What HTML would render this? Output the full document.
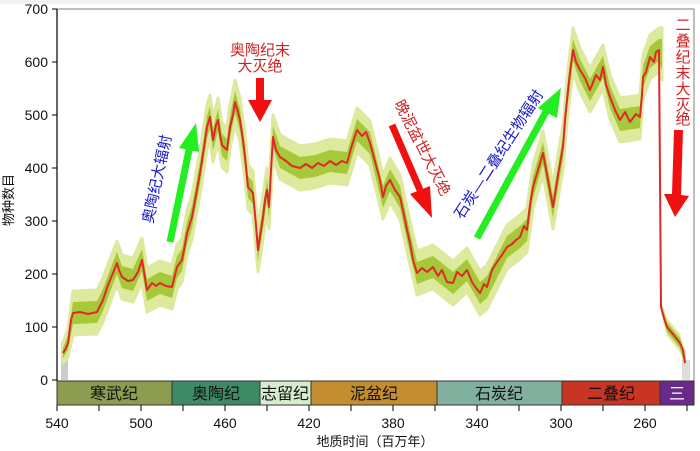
<!DOCTYPE html>
<html><head><meta charset="utf-8"><style>
html,body{margin:0;padding:0;background:#fff;}
svg{display:block;font-family:"Liberation Sans","Noto Sans CJK SC",sans-serif;}
</style></head><body>
<svg width="700" height="451" viewBox="0 0 700 451" xmlns="http://www.w3.org/2000/svg">
<rect width="700" height="451" fill="#fff"/>
<rect x="0" y="0" width="700" height="4" fill="#f2f2f2"/>
<line x1="57" y1="9" x2="694" y2="9" stroke="#aaa" stroke-width="1.5"/>
<line x1="694" y1="9" x2="694" y2="381" stroke="#aaa" stroke-width="1.5"/>
<rect x="61" y="342" width="7" height="38" fill="#ccc"/>
<rect x="682" y="360" width="8" height="20" fill="#ddd"/>
<path fill="#dde99c" stroke="#dde99c" stroke-width="3" stroke-linejoin="round" d="M63,343 L68,329 L73,291 L97,290 L103,278 L113,251 L117,241 L122,255 L133,258 L142,238 L147,268 L160,261 L172,265 L177,245 L182,238 L187,211 L192,195 L200,151 L207,105 L210,95 L213,118 L218,98 L222,123 L227,128 L230,105 L235,80 L240,98 L245,135 L248,165 L253,171 L258,228 L263,195 L267,168 L269,185 L273,115 L280,135 L300,146 L315,144 L330,139 L347,141 L357,108 L370,121 L383,175 L390,158 L400,175 L410,221 L417,251 L433,245 L453,261 L467,248 L480,271 L487,265 L507,225 L520,215 L527,208 L533,165 L543,131 L553,185 L563,125 L567,78 L573,28 L580,48 L590,68 L603,45 L610,75 L620,98 L640,95 L643,55 L650,35 L659,28 L662,28 L662,80 L659,72 L650,79 L643,99 L640,139 L620,142 L610,119 L603,89 L590,112 L580,92 L573,72 L567,122 L563,169 L553,229 L543,175 L533,209 L527,252 L520,259 L507,269 L487,309 L480,315 L467,292 L453,305 L433,289 L417,295 L410,265 L400,219 L390,202 L383,219 L370,165 L357,152 L347,185 L330,183 L315,188 L300,190 L280,179 L273,159 L269,229 L267,212 L263,239 L258,272 L253,215 L248,209 L245,179 L240,142 L235,124 L230,149 L227,172 L222,167 L218,142 L213,162 L210,139 L207,149 L200,195 L192,239 L187,255 L182,282 L177,289 L172,309 L160,305 L147,312 L142,282 L133,302 L122,299 L117,285 L113,295 L103,322 L97,334 L73,335 L68,357 L63,363 Z"/>
<path fill="#a6c93a" d="M63,348 L68,336 L73,302 L97,301 L103,289 L113,262 L117,252 L122,266 L133,269 L142,249 L147,279 L160,272 L172,276 L177,256 L182,249 L187,222 L192,206 L200,162 L207,116 L210,106 L213,129 L218,109 L222,134 L227,139 L230,116 L235,91 L240,109 L245,146 L248,176 L253,182 L258,239 L263,206 L267,179 L269,196 L273,126 L280,146 L300,157 L315,155 L330,150 L347,152 L357,119 L370,132 L383,186 L390,169 L400,186 L410,232 L417,262 L433,256 L453,272 L467,259 L480,282 L487,276 L507,236 L520,226 L527,219 L533,176 L543,142 L553,196 L563,136 L567,89 L573,39 L580,59 L590,79 L603,56 L610,86 L620,109 L640,106 L643,66 L650,46 L659,39 L662,39 L662,70 L659,61 L650,68 L643,88 L640,128 L620,131 L610,108 L603,78 L590,101 L580,81 L573,61 L567,111 L563,158 L553,218 L543,164 L533,198 L527,241 L520,248 L507,258 L487,298 L480,304 L467,281 L453,294 L433,278 L417,284 L410,254 L400,208 L390,191 L383,208 L370,154 L357,141 L347,174 L330,172 L315,177 L300,179 L280,168 L273,148 L269,218 L267,201 L263,228 L258,261 L253,204 L248,198 L245,168 L240,131 L235,113 L230,138 L227,161 L222,156 L218,131 L213,151 L210,128 L207,138 L200,184 L192,228 L187,244 L182,271 L177,278 L172,298 L160,294 L147,301 L142,271 L133,291 L122,288 L117,274 L113,284 L103,311 L97,323 L73,324 L68,350 L63,358 Z"/>
<path fill="#dde99c" d="M661,300 L667,318 L680,334 L686,352 L686,370 L680,352 L667,336 L661,314 Z"/>
<path fill="#a6c93a" d="M661,304 L667,322 L680,338 L685,356 L685,366 L680,348 L667,332 L661,310 Z"/>
<path fill="none" stroke="#e02828" stroke-width="2" stroke-linejoin="round" d="M63,353 L66,348 L68,343 L71,320 L73,313 L80,312 L88,314 L97,312 L103,300 L108,285 L113,273 L117,263 L119,270 L122,277 L128,281 L133,280 L138,272 L142,260 L144,272 L147,290 L152,283 L156,286 L160,283 L166,286 L172,287 L177,267 L182,260 L185,245 L187,233 L192,217 L196,195 L200,173 L204,148 L207,127 L210,117 L213,140 L216,125 L218,120 L220,135 L222,145 L227,150 L230,127 L233,115 L235,102 L238,112 L240,120 L243,140 L245,157 L248,187 L253,193 L256,225 L258,250 L263,217 L265,200 L267,190 L269,207 L271,170 L273,137 L276,150 L280,157 L286,161 L292,166 L300,168 L306,164 L312,168 L318,163 L324,166 L330,161 L336,165 L342,161 L347,163 L352,145 L357,130 L362,136 L366,132 L370,143 L376,165 L380,180 L383,197 L386,186 L390,180 L395,190 L400,197 L404,215 L407,230 L410,243 L413,260 L417,273 L422,268 L427,272 L433,267 L438,276 L442,270 L447,282 L453,283 L457,272 L462,276 L467,270 L472,282 L476,288 L480,293 L484,284 L487,287 L492,270 L497,262 L502,255 L507,247 L512,244 L516,240 L520,237 L524,226 L527,230 L530,205 L533,187 L538,170 L543,153 L548,180 L553,207 L558,175 L563,147 L565,120 L567,100 L570,72 L573,50 L576,62 L580,70 L585,78 L590,90 L596,75 L600,80 L603,67 L606,85 L610,97 L615,110 L620,120 L625,112 L630,122 L636,114 L640,117 L642,95 L643,77 L646,72 L650,57 L654,62 L656,52 L659,50 L661,307 L664,318 L667,327 L672,333 L676,338 L680,343 L683,350 L685,363"/>
<line x1="57" y1="9" x2="57" y2="381" stroke="#000" stroke-width="1.2"/>
<g stroke="#000" stroke-width="1">
<line x1="52" y1="380" x2="57" y2="380"/><line x1="52" y1="327" x2="57" y2="327"/><line x1="52" y1="274" x2="57" y2="274"/><line x1="52" y1="221" x2="57" y2="221"/><line x1="52" y1="168" x2="57" y2="168"/><line x1="52" y1="115" x2="57" y2="115"/><line x1="52" y1="62" x2="57" y2="62"/><line x1="52" y1="9" x2="57" y2="9"/>
</g>
<g font-size="14" fill="#111" text-anchor="end">
<text x="48" y="385">0</text><text x="48" y="332">100</text><text x="48" y="279">200</text><text x="48" y="226">300</text><text x="48" y="173">400</text><text x="48" y="120">500</text><text x="48" y="67">600</text><text x="48" y="14">700</text>
</g>
<text transform="translate(13,200) rotate(-90)" font-size="13" text-anchor="middle" fill="#111">物种数目</text>
<g stroke="#333" stroke-width="1">
<rect x="57" y="381" width="115" height="24" fill="#8c9c50"/>
<rect x="172" y="381" width="88" height="24" fill="#3f8a66"/>
<rect x="260" y="381" width="51" height="24" fill="#d7ebd0"/>
<rect x="311" y="381" width="126" height="24" fill="#c48d30"/>
<rect x="437" y="381" width="125" height="24" fill="#82b09e"/>
<rect x="562" y="381" width="98" height="24" fill="#c83522"/>
<rect x="660" y="381" width="34" height="24" fill="#6a2a8c"/>
</g>
<g font-size="16" text-anchor="middle" fill="#111">
<text x="114" y="399">寒武纪</text><text x="216" y="399">奥陶纪</text><text x="285" y="399">志留纪</text><text x="374" y="399">泥盆纪</text><text x="499" y="399">石炭纪</text><text x="611" y="399">二叠纪</text><text x="677" y="399" fill="#fff">三</text>
</g>
<g stroke="#000" stroke-width="1">
<line x1="57" y1="405" x2="57" y2="411"/><line x1="99" y1="405" x2="99" y2="411"/><line x1="141" y1="405" x2="141" y2="411"/><line x1="183" y1="405" x2="183" y2="411"/><line x1="225" y1="405" x2="225" y2="411"/><line x1="267" y1="405" x2="267" y2="411"/><line x1="309" y1="405" x2="309" y2="411"/><line x1="351" y1="405" x2="351" y2="411"/><line x1="393" y1="405" x2="393" y2="411"/><line x1="435" y1="405" x2="435" y2="411"/><line x1="477" y1="405" x2="477" y2="411"/><line x1="519" y1="405" x2="519" y2="411"/><line x1="561" y1="405" x2="561" y2="411"/><line x1="603" y1="405" x2="603" y2="411"/><line x1="645" y1="405" x2="645" y2="411"/><line x1="687" y1="405" x2="687" y2="411"/>
</g>
<g font-size="14" text-anchor="middle" fill="#111">
<text x="57" y="428">540</text><text x="141" y="428">500</text><text x="225" y="428">460</text><text x="309" y="428">420</text><text x="393" y="428">380</text><text x="477" y="428">340</text><text x="561" y="428">300</text><text x="645" y="428">260</text>
</g>
<text x="375" y="446" font-size="13" text-anchor="middle" fill="#111">地质时间（百万年）</text>
<g font-size="15" fill="#d42020" text-anchor="middle">
<text x="260" y="55">奥陶纪末</text><text x="260" y="71">大灭绝</text>
</g>
<path d="M256,78 L264,78 L264,100 L272,100 L260,122 L248,100 L256,100 Z" fill="#f01010"/>
<line x1="170" y1="242" x2="189" y2="150" stroke="#22ee22" stroke-width="7"/>
<path d="M196,123 L199,152 L179,148 Z" fill="#22ee22"/>
<text transform="translate(162,180) rotate(-78)" font-size="15" fill="#1818c8" text-anchor="middle">奥陶纪大辐射</text>
<line x1="392" y1="125" x2="420" y2="190" stroke="#f01010" stroke-width="7"/>
<path d="M432,218 L410,194 L430,186 Z" fill="#f01010"/>
<text transform="translate(418,150) rotate(63)" font-size="15" fill="#d42020" text-anchor="middle">晚泥盆世大灭绝</text>
<line x1="477" y1="238" x2="548" y2="108" stroke="#22ee22" stroke-width="7"/>
<path d="M561,88 L557,118 L538,108 Z" fill="#22ee22"/>
<text transform="translate(503,157) rotate(-57)" font-size="15" fill="#1818c8" text-anchor="middle">石炭—二叠纪生物辐射</text>
<g font-size="15" fill="#d42020" text-anchor="middle">
<text x="683" y="30">二</text><text x="683" y="46">叠</text><text x="683" y="62">纪</text><text x="683" y="78">末</text><text x="683" y="94">大</text><text x="683" y="110">灭</text><text x="683" y="124">绝</text>
</g>
<path d="M674,130 L683,130 L681,195 L689,196 L675,217 L664,194 L672,194 Z" fill="#f01010"/>
</svg>
</body></html>
